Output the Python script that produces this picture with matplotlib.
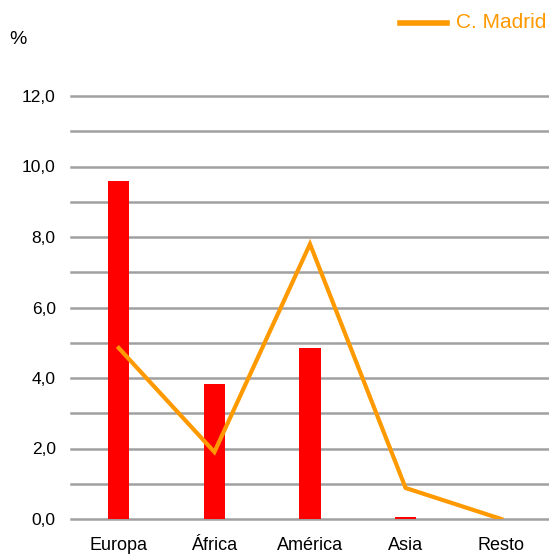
import matplotlib
matplotlib.use("Agg")
import matplotlib.pyplot as plt
import numpy as np

plt.rcParams["font.family"] = ["Liberation Sans", "DejaVu Sans"]

categories = ["Europa", "África", "América", "Asia", "Resto"]
bar_values = [9.6, 3.83, 4.85, 0.06, 0.0]
madrid_values = [4.85, 1.9, 7.8, 0.88, 0.0]
y_ticks = [0, 2, 4, 6, 8, 10, 12]
y_labels = ["0,0", "2,0", "4,0", "6,0", "8,0", "10,0", "12,0"]

fig = plt.figure(figsize=(5.49, 5.54), dpi=100)
ax = fig.add_axes([71 / 549, 1 - 519 / 554, 1 - 71 / 549, (519 - 96) / 554])

x = np.arange(len(categories))
ax.set_xlim(-0.5, len(categories) - 0.5)
ax.set_ylim(0, 12)

# gridlines every unit
for g in range(0, 13):
    ax.axhline(g, color="#a0a0a0", lw=1.8, zorder=0, clip_on=False)

ax.bar(x, bar_values, width=0.22, color="#ff0000", zorder=2)
ax.plot(x, madrid_values, color="#ff9900", lw=3, zorder=3,
        solid_joinstyle="miter", label="C. Madrid")

ax.set_yticks(y_ticks)
ax.set_yticklabels(y_labels, fontsize=12.5, color="#000000")
ax.set_xticks(x)
ax.set_xticklabels(categories, fontsize=13)
ax.tick_params(length=0, axis="y", pad=11)
ax.tick_params(length=0, axis="x", pad=13)
for s in ax.spines.values():
    s.set_visible(False)

fig.text(18 / 549, 1 - 40 / 554, "%", fontsize=14, ha="center", va="center")

# legend drawn by hand at top right
fig.lines.append(plt.Line2D([400 / 549, 447 / 549], [1 - 23 / 554, 1 - 23 / 554],
                            color="#ff9900", lw=4, transform=fig.transFigure))
fig.text(456 / 549, 1 - 23 / 554, "C. Madrid", color="#ff9900", fontsize=15,
         ha="left", va="center")

fig.savefig("out.png", dpi=100)
